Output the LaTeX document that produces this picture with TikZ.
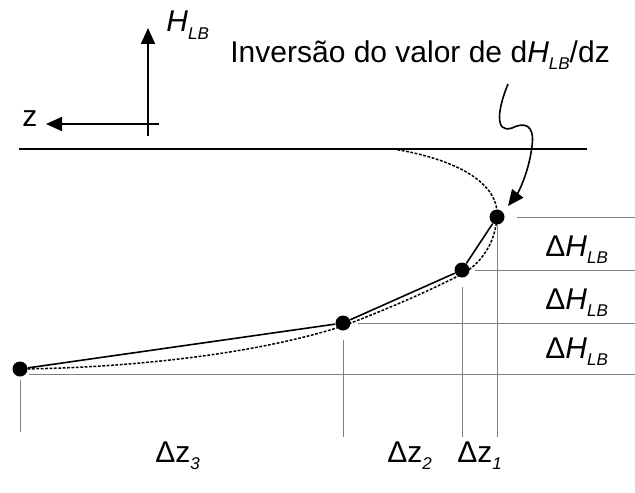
\documentclass[tikz,border=0pt]{standalone}
\usepackage{fontspec}
\setmainfont{Liberation Sans}
\usetikzlibrary{arrows.meta}
\newcommand{\lbsub}[1]{\raisebox{-0.5ex}{\fontsize{8.5}{8.5}\selectfont\itshape #1}}
\newcommand{\HLB}{\textit{H}\lbsub{LB}}
\begin{document}
\begin{tikzpicture}[x=0.5pt, y=-0.5pt, >={Triangle[length=8pt,width=7pt]},
    font=\fontsize{15}{15}\selectfont,
    dot/.style={circle, fill=black, minimum size=7.5pt, inner sep=0pt},
    lbl/.style={anchor=base west, inner sep=0pt},
    guide/.style={draw=gray, line width=0.5pt},
    curve/.style={line width=0.75pt, dash pattern=on 1.4pt off 0.8pt}]
    \useasboundingbox (0,0) rectangle (635,492);
    % axes
    \coordinate (vb) at (148,136);
    \coordinate (vt) at (148,28);
    \coordinate (hr) at (159,124);
    \coordinate (hl) at (46,124);
    \draw[->, line width=0.8pt] (vb) -- (vt);
    \draw[->, line width=0.8pt] (hr) -- (hl);
    \node[lbl] (zlab) at (22,126) {z};
    \node[lbl] (hlab) at (166,32) {\HLB};
    % points
    \node[dot] (p1) at (497,217) {};
    \node[dot] (p2) at (462,270) {};
    \node[dot] (p3) at (343,323) {};
    \node[dot] (p4) at (20,369) {};
    % guides
    \draw[guide] (517,217) -- (635,217);
    \draw[guide] (475,270) -- (635,270);
    \draw[guide] (358,323) -- (635,323);
    \draw[guide] (29,374) -- (635,374);
    \draw[guide] (20,380) -- (20,432);
    \draw[guide] (343,340) -- (343,437);
    \draw[guide] (462,287) -- (462,437);
    \draw[guide] (p1.south) -- (497,437);
    % top line
    \draw[line width=0.8pt] (19,149) -- (587,149);
    % curve and segments
    \draw[curve] (393,149) .. controls (450,158) and (498,180) .. (497,215)
      .. controls (496,242) and (482,262) .. (464,273)
      .. controls (425,293) and (385,310) .. (343,326)
      .. controls (250,356) and (120,368) .. (20,369);
    \draw[line width=0.8pt] (p1) -- (p2) -- (p3) -- (p4);
    % labels
    \node[lbl] (dh1) at (545,256) {Δ\HLB};
    \node[lbl] (dh2) at (545,309) {Δ\HLB};
    \node[lbl] (dh3) at (545,358) {Δ\HLB};
    \node[lbl] (dz3) at (155,462) {Δz\lbsub{3}};
    \node[lbl] (dz2) at (387,462) {Δz\lbsub{2}};
    \node[lbl] (dz1) at (457,462) {Δz\lbsub{1}};
    \node[lbl] (inv) at (230,62) {Inversão do valor de d\HLB/dz};
    % pointer
    \coordinate (ps) at (508,84);
    \coordinate (pe) at (508,206);
    \draw[->, line width=0.8pt] (ps) .. controls (498,108) and (494,134) .. (512,128)
      .. controls (524,122) and (535,124) .. (532,146)
      .. controls (529,172) and (518,193) .. (pe);
\end{tikzpicture}
\end{document}
